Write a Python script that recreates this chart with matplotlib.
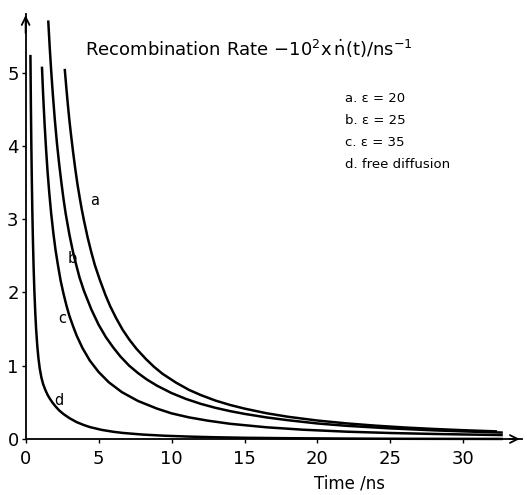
import matplotlib
matplotlib.use("Agg")
import matplotlib.pyplot as plt

# ---- data ----
t_a = [2.68, 2.8, 2.9, 3.0, 3.1, 3.25, 3.4, 3.55, 3.7, 3.85, 4.0, 4.25, 4.5, 4.75, 5.07,
       5.48, 5.8, 6.2, 6.65, 7.11, 7.6, 8.25, 8.8, 9.38, 10.3, 11.2, 12.0, 13.0, 14.0,
       15.0, 16.5, 18.0, 20.0, 22.0, 24.0, 26.0, 28.0, 30.0, 32.3]
v_a = [5.05, 4.77, 4.55, 4.35, 4.17, 3.92, 3.69, 3.48, 3.30, 3.13, 2.98, 2.75, 2.55, 2.37, 2.18,
       1.96, 1.81, 1.65, 1.49, 1.355, 1.23, 1.09, 0.985, 0.89, 0.77, 0.67, 0.60, 0.525, 0.465,
       0.415, 0.352, 0.303, 0.252, 0.213, 0.182, 0.157, 0.137, 0.12, 0.104]

t_b = [1.55, 1.65, 1.75, 1.87, 2.0, 2.15, 2.3, 2.45, 2.6, 2.75, 3.0, 3.25, 3.5, 3.7, 4.0,
       4.5, 5.0, 5.5, 6.0, 6.5, 7.1, 7.7, 8.3, 9.0, 10.0, 11.0, 12.0, 13.0, 14.0, 15.0,
       16.5, 18.0, 20.0, 22.0, 25.0, 28.0, 30.0, 32.7]
v_b = [5.71, 5.35, 5.03, 4.69, 4.36, 4.03, 3.75, 3.50, 3.27, 3.07, 2.79, 2.55, 2.35, 2.20, 2.02,
       1.77, 1.56, 1.39, 1.25, 1.125, 1.00, 0.90, 0.813, 0.728, 0.627, 0.546, 0.48, 0.426, 0.381, 0.343,
       0.295, 0.256, 0.212, 0.180, 0.145, 0.118, 0.104, 0.088]

t_c = [1.12, 1.2, 1.3, 1.4, 1.5, 1.62, 1.75, 1.9, 2.05, 2.2, 2.4, 2.6, 2.8, 3.0, 3.25,
       3.5, 3.9, 4.4, 5.0, 5.7, 6.6, 7.7, 9.0, 10.0, 11.2, 12.5, 14.0, 16.5, 19.0,
       22.0, 25.0, 28.0, 30.0, 32.7]
v_c = [5.08, 4.70, 4.30, 3.96, 3.66, 3.36, 3.08, 2.81, 2.58, 2.39, 2.16, 1.98, 1.82, 1.68, 1.54,
       1.41, 1.24, 1.07, 0.915, 0.774, 0.639, 0.519, 0.415, 0.35, 0.295, 0.25, 0.208, 0.16, 0.127,
       0.10, 0.082, 0.069, 0.062, 0.054]

t_d = [0.33, 0.36, 0.39, 0.42, 0.46, 0.50, 0.55, 0.60, 0.66, 0.72, 0.80, 0.88, 0.97, 1.08,
       1.2, 1.35, 1.5, 1.66, 1.85, 2.05, 2.3, 2.6, 3.0, 3.5, 4.0, 4.4, 5.2, 6.0, 6.66, 8.0,
       9.5, 11.2, 13.0, 15.0, 18.0, 22.0, 26.0, 32.7]
v_d = [5.24, 4.58, 4.05, 3.60, 3.11, 2.72, 2.33, 2.02, 1.73, 1.50, 1.27, 1.10, 0.96, 0.84,
       0.75, 0.67, 0.605, 0.55, 0.495, 0.445, 0.39, 0.34, 0.285, 0.23, 0.19, 0.163, 0.125, 0.099, 0.083, 0.061,
       0.045, 0.033, 0.024, 0.017, 0.011, 0.006, 0.003, 0.001]

curve_names = ["a", "b", "c", "d"]
legend_lines = ["a. \u03b5 = 20", "b. \u03b5 = 25", "c. \u03b5 = 35", "d. free diffusion"]
x_ticks = [0, 5, 10, 15, 20, 25, 30]
y_ticks = [0, 1, 2, 3, 4, 5]
title = r"Recombination Rate $-10^{2}$x$\,\mathrm{\dot{n}}$(t)/ns$^{-1}$"
xlabel = "Time /ns"

plt.rcParams["font.family"] = ["DejaVu Sans"]
plt.rcParams["mathtext.fontset"] = "dejavusans"

fig = plt.figure(figsize=(5.27, 4.95), dpi=100)
ax = fig.add_axes([0.0486, 0.1131, 0.947, 0.8663])
ax.set_xlim(0, 34.2)
ax.set_ylim(0, 5.85)

lw = 1.8
for tt, vv in [(t_a, v_a), (t_b, v_b), (t_c, v_c), (t_d, v_d)]:
    ax.plot(tt, vv, color="black", lw=lw, solid_capstyle="butt",
            solid_joinstyle="round", clip_on=False)

# curve labels
label_pos = [(4.73, 3.26), (3.2, 2.46), (2.5, 1.65), (2.25, 0.53)]
for name, (x, y) in zip(curve_names, label_pos):
    ax.text(x, y, name, fontsize=10.5, ha="center", va="center")

# legend text block
for i, s in enumerate(legend_lines):
    ax.text(0.639, 0.793 - i * 0.0513, s, transform=ax.transAxes, fontsize=9.5,
            ha="left", va="center")

ax.text(0.118, 0.911, title, transform=ax.transAxes, fontsize=13, ha="left", va="center")

for side in ["top", "right"]:
    ax.spines[side].set_visible(False)
for side in ["left", "bottom"]:
    ax.spines[side].set_linewidth(1.3)
ax.spines["left"].set_bounds(0, 5.8)
ax.spines["bottom"].set_bounds(0, 34.0)

# arrow heads
ax.annotate("", xy=(0, 5.82), xytext=(0, 5.5),
            arrowprops=dict(arrowstyle="->", lw=1.3, color="black", mutation_scale=14),
            annotation_clip=False)
ax.annotate("", xy=(34.05, 0), xytext=(33.0, 0),
            arrowprops=dict(arrowstyle="->", lw=1.3, color="black", mutation_scale=14),
            annotation_clip=False)

ax.set_xticks(x_ticks)
ax.set_yticks(y_ticks)
ax.tick_params(direction="out", length=3, width=1.0, labelsize=13)
ax.tick_params(axis="x", pad=5)
ax.tick_params(axis="y", pad=2)

fig.text(349 / 527, 1 - 484 / 495, xlabel, fontsize=12, ha="center", va="center")

fig.savefig("out.png", dpi=100, facecolor="white")
